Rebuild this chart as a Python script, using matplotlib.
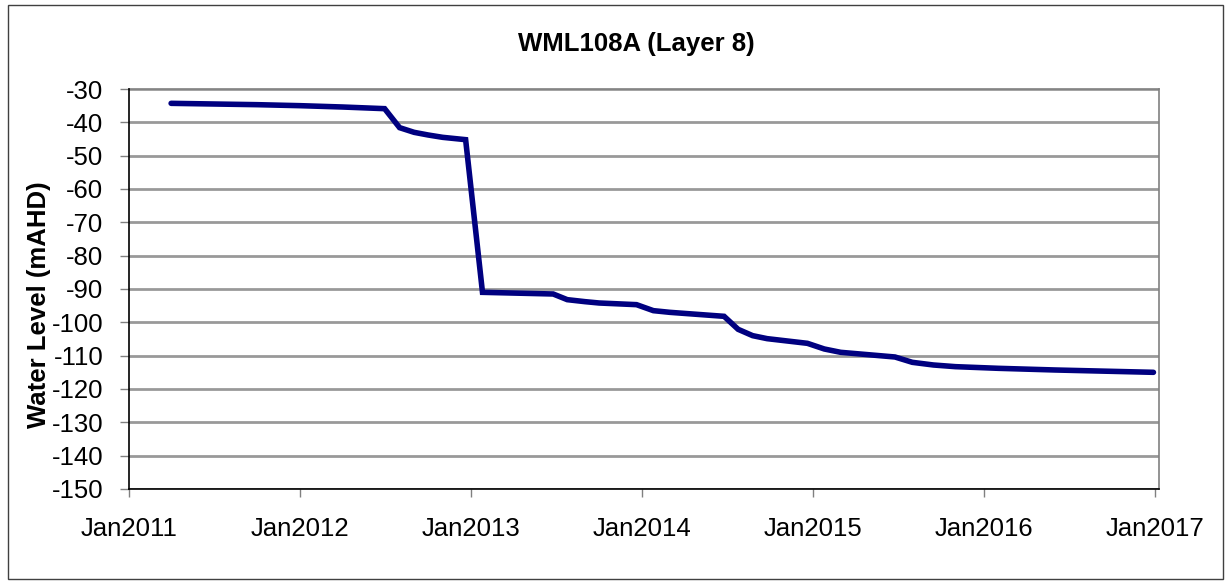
import numpy as np
import matplotlib.pyplot as plt
import matplotlib.dates as mdates
from matplotlib.patches import Rectangle
from datetime import datetime

plt.rcParams['font.family'] = ['Liberation Sans', 'DejaVu Sans']
plt.rcParams['axes.unicode_minus'] = False

# Modelled water level at WML108A, layer 8
dates = ['2011-04-01', '2011-10-01', '2012-01-01', '2012-04-01', '2012-06-30',
         '2012-08-01', '2012-09-01', '2012-10-01', '2012-11-01', '2012-12-20',
         '2013-01-25', '2013-06-25', '2013-07-25', '2013-09-01', '2013-10-01',
         '2013-12-20', '2014-01-25', '2014-03-01', '2014-06-25', '2014-07-25',
         '2014-08-25', '2014-09-25', '2014-12-20', '2015-01-25', '2015-03-01',
         '2015-06-25', '2015-08-01', '2015-09-15', '2015-11-01', '2016-02-01',
         '2016-06-01', '2016-12-28']
level = [-34.3, -34.7, -35.0, -35.4, -35.9,
         -41.6, -43.0, -43.8, -44.5, -45.2,
         -91.0, -91.5, -93.2, -93.8, -94.2,
         -94.7, -96.5, -97.0, -98.2, -102.1,
         -104.0, -104.9, -106.3, -108.0, -109.0,
         -110.4, -112.0, -112.8, -113.3, -113.8,
         -114.3, -115.0]
year_ticks = [2011, 2012, 2013, 2014, 2015, 2016, 2017]
y_ticks = np.arange(-150, -29, 10)

t = [datetime.strptime(d, '%Y-%m-%d') for d in dates]

fig = plt.figure(figsize=(12.26, 5.84), dpi=100)
ax = fig.add_axes([0.1052, 0.1627, 0.8402, 0.6849])

ax.plot(t, level, color='#000080', lw=4.0, solid_capstyle='round',
        solid_joinstyle='miter', zorder=3)

ax.set_xlim(datetime(2011, 1, 1), datetime(2017, 1, 9))
ax.set_ylim(-150, -30)
ax.set_yticks(y_ticks)
ax.set_xticks([datetime(y, 1, 1) for y in year_ticks])
ax.xaxis.set_major_formatter(mdates.DateFormatter('Jan%Y'))

ax.grid(axis='y', color='#999999', lw=2.0, zorder=1)
ax.set_axisbelow(True)

for side in ['top', 'right']:
    ax.spines[side].set_color('#808080')
    ax.spines[side].set_linewidth(1.2)
for side in ['left', 'bottom']:
    ax.spines[side].set_color('black')
    ax.spines[side].set_linewidth(1.2)
    ax.spines[side].set_zorder(4)

ax.tick_params(axis='y', direction='out', length=6.5, width=1, color='#808080',
               pad=12, labelsize=18.5)
ax.tick_params(axis='x', direction='out', length=6, width=1, color='#808080',
               pad=14, labelsize=18.5)

fig.text(636 / 1226, 1 - 44 / 584, 'WML108A (Layer 8)', fontsize=18.5,
         fontweight='bold', ha='center', va='center')
ax.set_ylabel('Water Level (mAHD)', fontsize=18.5, fontweight='bold',
              va='center')
ax.yaxis.set_label_coords(-0.087, 0.46)

# chart border
fig.patches.append(Rectangle((8 / 1226, 5 / 584), 1215 / 1226, 574 / 584,
                             transform=fig.transFigure, fill=False,
                             edgecolor='#404040', lw=1.0))

fig.savefig('out.png', dpi=100)
